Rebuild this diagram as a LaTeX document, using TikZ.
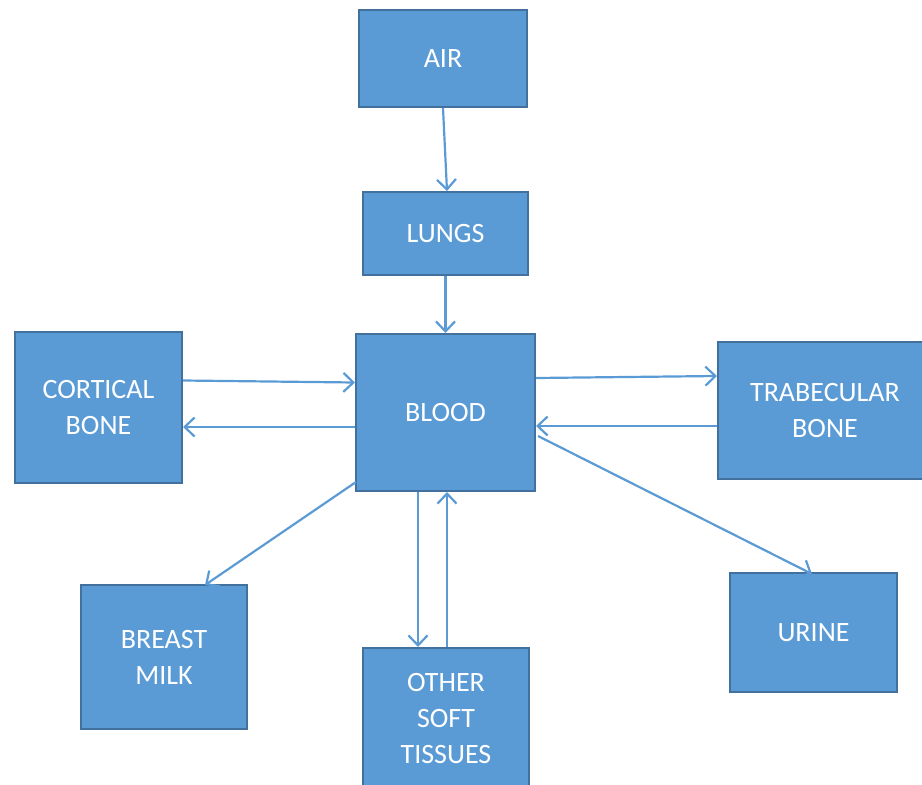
\documentclass[tikz,border=0pt]{standalone}
\usepackage{fontspec}
\setmainfont{Carlito}
\usetikzlibrary{arrows.meta}
\definecolor{boxfill}{HTML}{5B9BD5}
\definecolor{boxline}{HTML}{41719C}
\definecolor{arrowcol}{HTML}{5B9BD5}
\begin{document}
\begin{tikzpicture}[x=1pt,y=-1pt,
  box/.style={draw=boxline, line width=2pt, fill=boxfill, text=white, inner sep=0pt,
    font=\fontsize{28}{36}\selectfont, align=center},
  conn/.style={draw=arrowcol, line width=2.2pt, -{Straight Barb[length=10pt,width=19pt,line width=2.2pt]}}]
\useasboundingbox (0,0) rectangle (922,785);
\begin{scope}
\clip (0,0) rectangle (922,785);
\node[box, minimum width=168pt, minimum height=97pt] (air) at (443,58.5) {AIR};
\node[box, minimum width=165pt, minimum height=83pt] (lungs) at (445.5,233.5) {LUNGS};
\node[box, minimum width=179pt, minimum height=157pt] (blood) at (445.5,412.5) {BLOOD};
\node[box, minimum width=167pt, minimum height=151pt] (cortical) at (98.5,407.5) {CORTICAL\\BONE};
\node[box, minimum width=206pt, minimum height=137pt, text width=206pt] (trab) at (821,410.5) {\hspace*{8pt}TRABECULAR\\\hspace*{8pt}BONE};
\node[box, minimum width=166pt, minimum height=144pt] (milk) at (164,657) {BREAST\\MILK};
\node[box, minimum width=166pt, minimum height=150pt, anchor=north] (other) at (446,647) {};
\node[text=white, font=\fontsize{28}{36}\selectfont, align=center] (othertext) at (446,718.5) {OTHER\\SOFT\\TISSUES};
\node[box, minimum width=167pt, minimum height=119pt] (urine) at (813.5,632.5) {URINE};
\end{scope}
\coordinate (airS) at (443,108);
\coordinate (lungsN) at (447,191);
\draw[conn] (airS) -- (lungsN);
\draw[conn] (lungs.south) -- (blood.north);
\draw[conn] ([yshift=27pt]cortical.east) -- ([yshift=30pt]blood.west);
\draw[conn] ([yshift=-14.5pt]blood.west) -- ([yshift=-19.5pt]cortical.east);
\draw[conn] ([yshift=34.5pt]blood.east) -- ([yshift=34.5pt]trab.west);
\draw[conn] ([yshift=-15.5pt]trab.west) -- ([yshift=-13.5pt]blood.east);
\coordinate (bloodSE) at (538,436);
\coordinate (urineN) at (812,574);
\draw[conn] (bloodSE) -- (urineN);
\coordinate (bloodSW) at (356,482);
\coordinate (milkN) at (205,585);
\draw[conn] (bloodSW) -- (milkN);
\draw[conn] ([xshift=-27.5pt]blood.south) -- ([xshift=-28pt]other.north);
\draw[conn] ([xshift=1pt]other.north) -- ([xshift=1.5pt]blood.south);
\end{tikzpicture}
\end{document}
